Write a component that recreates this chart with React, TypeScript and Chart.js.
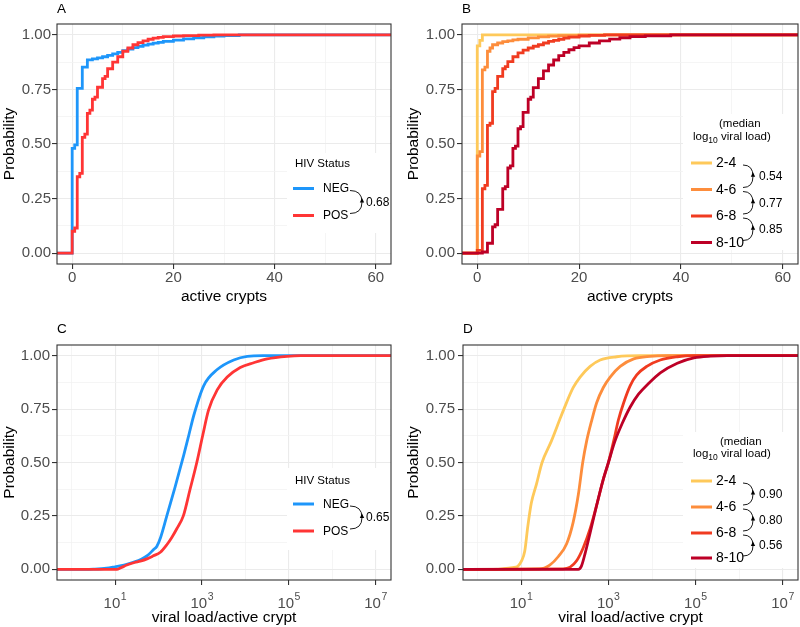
import React, { useEffect, useRef } from "react";
import { Chart, registerables } from "chart.js";

Chart.register(...registerables);

const FONT = "'Liberation Sans', Arial, Helvetica, sans-serif";

// ---------- axes ----------
const LIN_X_MIN = -3;
const LIN_X_MAX = 63;
const LOG_X_MIN = 0.46;
const LOG_X_MAX = 2.24e7;
const Y_MIN = -0.05;
const Y_MAX = 1.05;
const Y_MAJOR = [0, 0.25, 0.5, 0.75, 1];
const Y_MINOR = [0.125, 0.375, 0.625, 0.875];
const LIN_X_MAJOR = [0, 20, 40, 60];
const LIN_X_MINOR = [10, 30, 50];
const LOG_X_MAJOR = [10, 1000, 100000, 10000000];
const LOG_X_MINOR = [1, 100, 10000, 1000000];
const LOG_X_EXP = ["1", "3", "5", "7"];

// ---------- groups ----------
const HIV_GROUPS = ["NEG", "POS"];
const HIV_COLORS = ["#1E96FA", "#FF3535"];
const VL_GROUPS = ["2-4", "4-6", "6-8", "8-10"];
const VL_COLORS = ["#FEC95A", "#FD8D3C", "#F03B20", "#BD0026"];

// ---------- panel A: active crypts by HIV status (ECDF) ----------
const A_NEG_X = [0, 0.5, 1, 2, 3, 4, 5, 6, 7, 8, 9, 10, 11, 12, 13, 14, 15, 16, 17, 18, 20, 22, 24, 26, 28, 30, 33];
const A_NEG_Y = [0.48, 0.496, 0.755, 0.852, 0.886, 0.89, 0.895, 0.9, 0.906, 0.913, 0.92, 0.928, 0.935, 0.942, 0.948, 0.953, 0.958, 0.962, 0.966, 0.97, 0.976, 0.982, 0.987, 0.991, 0.994, 0.997, 1.0];
const A_POS_X = [0, 0.5, 1, 1.5, 2, 2.5, 3, 3.5, 4, 4.5, 5, 6, 6.5, 7, 8, 9, 10, 11, 12, 13, 14, 15, 16, 17, 18, 20, 22, 25, 28];
const A_POS_Y = [0.1, 0.115, 0.35, 0.365, 0.53, 0.545, 0.64, 0.655, 0.705, 0.715, 0.76, 0.8, 0.81, 0.845, 0.875, 0.9, 0.925, 0.94, 0.955, 0.965, 0.973, 0.98, 0.985, 0.989, 0.992, 0.995, 0.997, 0.999, 1.0];
const A_CORR = ["0.68"];

// ---------- panel B: active crypts by viral load group (ECDF) ----------
const B_24_X = [0, 0.5, 1];
const B_24_Y = [0.95, 0.975, 1.0];
const B_46_X = [0, 0.5, 1, 1.5, 2, 2.5, 3, 4, 5, 6, 7, 8, 10, 12, 14, 16, 20, 25];
const B_46_Y = [0.445, 0.465, 0.84, 0.852, 0.925, 0.94, 0.955, 0.963, 0.969, 0.973, 0.977, 0.98, 0.986, 0.991, 0.994, 0.997, 0.999, 1.0];
const B_68_X = [0, 1, 1.5, 2, 2.5, 3, 3.5, 4, 5, 5.5, 6, 7, 8, 9, 10, 11, 12, 13, 14, 15, 16, 17, 18, 20, 22, 25];
const B_68_Y = [0.012, 0.295, 0.31, 0.585, 0.595, 0.74, 0.755, 0.81, 0.845, 0.855, 0.878, 0.9, 0.918, 0.93, 0.94, 0.948, 0.955, 0.963, 0.97, 0.975, 0.98, 0.985, 0.99, 0.995, 0.998, 1.0];
const B_810_X = [1, 2, 3, 3.5, 4, 5, 5.5, 6, 6.5, 7, 7.5, 8, 8.5, 9, 10, 10.5, 11, 12, 13, 14, 15, 16, 17, 18, 19, 20, 22, 24, 26, 28, 30, 33, 38];
const B_810_Y = [0.005, 0.045, 0.12, 0.13, 0.2, 0.295, 0.305, 0.39, 0.4, 0.48, 0.49, 0.57, 0.58, 0.645, 0.705, 0.715, 0.758, 0.8, 0.835, 0.862, 0.885, 0.905, 0.92, 0.932, 0.942, 0.95, 0.963, 0.973, 0.981, 0.987, 0.992, 0.996, 1.0];
const B_CORR = ["0.54", "0.77", "0.85"];

// ---------- panel C: viral load / active crypt by HIV status ----------
const C_NEG_X = [2, 3.2, 6.3, 10, 16, 25, 40, 56, 79, 91, 112, 155, 240, 380, 500, 646, 1100, 2240, 5370, 11000, 25000];
const C_NEG_Y = [0, 0.001, 0.005, 0.012, 0.02, 0.032, 0.047, 0.065, 0.095, 0.107, 0.15, 0.25, 0.385, 0.535, 0.63, 0.72, 0.86, 0.935, 0.98, 0.997, 1.0];
const C_POS_X = [11, 13.2, 18.6, 28, 38, 56, 76, 110, 155, 200, 263, 372, 525, 759, 1047, 1413, 2239, 3802, 7586, 15488, 31623, 91201, 186209];
const C_POS_Y = [0, 0.006, 0.02, 0.032, 0.038, 0.05, 0.063, 0.08, 0.115, 0.148, 0.19, 0.25, 0.37, 0.5, 0.63, 0.745, 0.84, 0.9, 0.945, 0.967, 0.985, 0.997, 1.0];
const C_CORR = ["0.65"];

// ---------- panel D: viral load / active crypt by viral load group ----------
const D_24_X = [2.5, 4, 6.3, 8.3, 10, 12, 14.1, 17, 22.4, 30, 49, 76, 95, 155, 224, 380, 646, 1550, 5370];
const D_24_Y = [0, 0.003, 0.008, 0.014, 0.037, 0.084, 0.2, 0.31, 0.4, 0.5, 0.6, 0.7, 0.75, 0.85, 0.9, 0.95, 0.98, 0.995, 1.0];
const D_46_X = [26, 45, 71, 110, 155, 204, 257, 316, 417, 537, 759, 1096, 1862, 3802, 9120, 22387];
const D_46_Y = [0.002, 0.02, 0.06, 0.12, 0.22, 0.35, 0.5, 0.6, 0.7, 0.78, 0.85, 0.9, 0.95, 0.985, 0.997, 1.0];
const D_68_X = [91, 132, 186, 263, 380, 537, 759, 1000, 1318, 1698, 2239, 3162, 4467, 7586, 15488, 38019, 91201];
const D_68_Y = [0.002, 0.01, 0.04, 0.1, 0.19, 0.3, 0.42, 0.5, 0.6, 0.7, 0.78, 0.86, 0.91, 0.95, 0.98, 0.995, 1.0];
const D_810_X = [204, 240, 288, 380, 537, 759, 1000, 1413, 2042, 3162, 4898, 8318, 15488, 38019, 91201, 223872, 537032];
const D_810_Y = [0, 0.015, 0.07, 0.17, 0.3, 0.42, 0.5, 0.6, 0.68, 0.76, 0.82, 0.87, 0.92, 0.965, 0.99, 0.998, 1.0];
const D_CORR = ["0.90", "0.80", "0.56"];

type Legend = {
  box: [number, number, number, number];
  kind: "hiv" | "vl";
  titlePos: [number, number][];
  entryY: number[];
  lineX: [number, number];
  textX: number;
  labelSize: number;
  arrowX: [number, number];
  arrowTextX: number;
};

type PanelCfg = {
  tag: string;
  left: number;
  top: number;
  w: number;
  h: number;
  pad: { top: number; right: number; bottom: number; left: number };
  yW: number;
  xH: number;
  tagY: number;
  log: boolean;
  xTitle: string;
  xTitlePadB: number;
  yTitlePadT: number;
  yTickPad: number;
  seriesX: number[][];
  seriesY: number[][];
  groups: string[];
  colors: string[];
  corr: string[];
  legend: Legend;
};

const PANELS: PanelCfg[] = [
  {
    tag: "A", left: 0, top: 0, w: 400, h: 313,
    pad: { top: 24, right: 9, bottom: 0, left: 0 }, yW: 57, xH: 49, tagY: 12.5,
    log: false, xTitle: "active crypts", xTitlePadB: 7, yTitlePadT: 0, yTickPad: 1,
    seriesX: [A_NEG_X, A_POS_X], seriesY: [A_NEG_Y, A_POS_Y],
    groups: HIV_GROUPS, colors: HIV_COLORS, corr: A_CORR,
    legend: { box: [287, 153, 104, 80], kind: "hiv", titlePos: [[295, 164]], entryY: [188.5, 215.5], lineX: [293, 314], textX: 323, labelSize: 12, arrowX: [350, 362], arrowTextX: 366 },
  },
  {
    tag: "B", left: 400, top: 0, w: 400, h: 313,
    pad: { top: 24, right: 2, bottom: 0, left: 0 }, yW: 62, xH: 49, tagY: 12.5,
    log: false, xTitle: "active crypts", xTitlePadB: 7, yTitlePadT: 4, yTickPad: 2,
    seriesX: [B_24_X, B_46_X, B_68_X, B_810_X], seriesY: [B_24_Y, B_46_Y, B_68_Y, B_810_Y],
    groups: VL_GROUPS, colors: VL_COLORS, corr: B_CORR,
    legend: { box: [283, 114, 115, 136], kind: "vl", titlePos: [[319, 124], [293, 137]], entryY: [163, 189.5, 216, 242.5], lineX: [291, 312], textX: 316, labelSize: 14, arrowX: [343, 353], arrowTextX: 359 },
  },
  {
    tag: "C", left: 0, top: 313, w: 400, h: 314,
    pad: { top: 32, right: 9, bottom: 0, left: 0 }, yW: 57, xH: 47, tagY: 20,
    log: true, xTitle: "viral load/active crypt", xTitlePadB: 0, yTitlePadT: 0, yTickPad: 2,
    seriesX: [C_NEG_X, C_POS_X], seriesY: [C_NEG_Y, C_POS_Y],
    groups: HIV_GROUPS, colors: HIV_COLORS, corr: C_CORR,
    legend: { box: [287, 155, 104, 82], kind: "hiv", titlePos: [[295, 168]], entryY: [191, 218], lineX: [293, 314], textX: 323, labelSize: 12, arrowX: [350, 362], arrowTextX: 366 },
  },
  {
    tag: "D", left: 400, top: 313, w: 400, h: 314,
    pad: { top: 32, right: 2, bottom: 0, left: 0 }, yW: 63, xH: 47, tagY: 20,
    log: true, xTitle: "viral load/active crypt", xTitlePadB: 0, yTitlePadT: 4.5, yTickPad: 3,
    seriesX: [D_24_X, D_46_X, D_68_X, D_810_X], seriesY: [D_24_Y, D_46_Y, D_68_Y, D_810_Y],
    groups: VL_GROUPS, colors: VL_COLORS, corr: D_CORR,
    legend: { box: [283, 119, 115, 136], kind: "vl", titlePos: [[320, 129], [293, 141]], entryY: [168, 194, 220, 245], lineX: [291, 312], textX: 316, labelSize: 14, arrowX: [343, 353], arrowTextX: 359 },
  },
];

function drawLegend(ctx: CanvasRenderingContext2D, cfg: PanelCfg) {
  const lg = cfg.legend;
  ctx.save();
  ctx.fillStyle = "#FFFFFF";
  ctx.fillRect(lg.box[0], lg.box[1], lg.box[2], lg.box[3]);
  ctx.fillStyle = "#000000";
  ctx.textBaseline = "middle";
  ctx.textAlign = "left";
  ctx.font = `11.5px ${FONT}`;
  if (lg.kind === "hiv") {
    ctx.fillText("HIV Status", lg.titlePos[0][0], lg.titlePos[0][1]);
  } else {
    ctx.fillText("(median", lg.titlePos[0][0], lg.titlePos[0][1]);
    let x = lg.titlePos[1][0];
    const y = lg.titlePos[1][1];
    ctx.fillText("log", x, y);
    x += ctx.measureText("log").width;
    ctx.font = `8.5px ${FONT}`;
    ctx.fillText("10", x, y + 3.5);
    x += ctx.measureText("10").width;
    ctx.font = `11.5px ${FONT}`;
    ctx.fillText(" viral load)", x, y);
  }
  cfg.groups.forEach((g, i) => {
    const y = lg.entryY[i];
    ctx.strokeStyle = cfg.colors[i];
    ctx.lineWidth = 3;
    ctx.lineCap = "butt";
    ctx.beginPath();
    ctx.moveTo(lg.lineX[0], y);
    ctx.lineTo(lg.lineX[1], y);
    ctx.stroke();
    ctx.font = `${lg.labelSize}px ${FONT}`;
    ctx.fillText(g, lg.textX, y + 0.5);
  });
  cfg.corr.forEach((c, i) => {
    const y1 = lg.entryY[i] + 2;
    const y2 = lg.entryY[i + 1] - 2;
    const ym = (y1 + y2) / 2;
    const [a0, a1] = lg.arrowX;
    ctx.strokeStyle = "#000000";
    ctx.lineWidth = 0.9;
    ctx.beginPath();
    ctx.moveTo(a0, y1);
    ctx.quadraticCurveTo(a1, y1, a1, ym);
    ctx.quadraticCurveTo(a1, y2, a0, y2);
    ctx.stroke();
    ctx.beginPath();
    ctx.moveTo(a1, ym - 4);
    ctx.lineTo(a1 - 2.2, ym + 0.5);
    ctx.lineTo(a1 + 2.2, ym + 0.5);
    ctx.closePath();
    ctx.fill();
    ctx.font = `12px ${FONT}`;
    ctx.fillText(c, lg.arrowTextX, ym + 0.5);
  });
  ctx.restore();
}

function makeConfig(cfg: PanelCfg): any {
  const xMin = cfg.log ? LOG_X_MIN : LIN_X_MIN;
  const xMax = cfg.log ? LOG_X_MAX : LIN_X_MAX;
  const xMajor = cfg.log ? LOG_X_MAJOR : LIN_X_MAJOR;
  const xMinor = cfg.log ? LOG_X_MINOR : LIN_X_MINOR;
  const n = cfg.groups.length;
  const datasets = cfg.groups.map((g, i) => ({
    label: g,
    data: [
      { x: xMin, y: 0 },
      ...cfg.seriesX[i].map((x, j) => ({ x, y: cfg.seriesY[i][j] })),
      { x: xMax, y: 1 },
    ],
    borderColor: cfg.colors[i],
    backgroundColor: cfg.colors[i],
    borderWidth: 2.8,
    pointRadius: 0,
    fill: false,
    stepped: cfg.log ? false : "before",
    cubicInterpolationMode: cfg.log ? "monotone" : "default",
    tension: 0,
    order: n - i,
  }));

  const gridColor = (major: number[]) => (ctx: any) =>
    ctx.tick && major.includes(ctx.tick.value) ? "#EBEBEB" : "#F3F3F3";
  const gridWidth = (major: number[]) => (ctx: any) =>
    ctx.tick && major.includes(ctx.tick.value) ? 1.1 : 0.8;
  const tickColor = (major: number[]) => (ctx: any) =>
    ctx.tick && major.includes(ctx.tick.value) ? "#333333" : "rgba(0,0,0,0)";

  const plugin = {
    id: "panel" + cfg.tag,
    afterDatasetsDraw(chart: any) {
      drawLegend(chart.ctx, cfg);
    },
    afterDraw(chart: any) {
      const ctx: CanvasRenderingContext2D = chart.ctx;
      const ca = chart.chartArea;
      ctx.save();
      ctx.strokeStyle = "#333333";
      ctx.lineWidth = 1.1;
      ctx.strokeRect(ca.left, ca.top, ca.right - ca.left, ca.bottom - ca.top);
      ctx.fillStyle = "#000000";
      ctx.textAlign = "left";
      ctx.textBaseline = "alphabetic";
      ctx.font = `13.5px ${FONT}`;
      ctx.fillText(cfg.tag, ca.left, cfg.tagY);
      if (cfg.log) {
        const sx = chart.scales.x;
        ctx.fillStyle = "#4D4D4D";
        LOG_X_MAJOR.forEach((v, i) => {
          const px = sx.getPixelForValue(v);
          ctx.font = `15px ${FONT}`;
          const w1 = ctx.measureText("10").width;
          ctx.font = `10.5px ${FONT}`;
          const w2 = ctx.measureText(LOG_X_EXP[i]).width;
          const x0 = px - (w1 + w2 + 0.5) / 2;
          const base = ca.bottom + 28;
          ctx.font = `15px ${FONT}`;
          ctx.fillText("10", x0, base);
          ctx.font = `10.5px ${FONT}`;
          ctx.fillText(LOG_X_EXP[i], x0 + w1 + 0.5, base - 8);
        });
      }
      ctx.restore();
    },
  };

  return {
    type: "line",
    data: { datasets },
    options: {
      animation: false,
      responsive: false,
      devicePixelRatio: 1,
      events: [],
      layout: { padding: cfg.pad },
      plugins: { legend: { display: false }, tooltip: { enabled: false }, title: { display: false } },
      scales: {
        x: {
          type: cfg.log ? "logarithmic" : "linear",
          min: xMin,
          max: xMax,
          afterBuildTicks: (s: any) => {
            s.ticks = [...xMajor, ...xMinor].sort((a, b) => a - b).map((value) => ({ value }));
          },
          afterFit: (s: any) => {
            s.height = cfg.xH;
          },
          border: { display: false },
          grid: {
            color: gridColor(xMajor),
            lineWidth: gridWidth(xMajor),
            tickColor: tickColor(xMajor),
            tickWidth: 1.1,
            tickLength: 5,
            drawTicks: true,
          },
          ticks: {
            autoSkip: false,
            maxRotation: 0,
            padding: 0,
            color: "#4D4D4D",
            font: { family: FONT, size: 15 },
            callback: (v: number) => (!cfg.log && LIN_X_MAJOR.includes(v) ? String(v) : ""),
          },
          title: {
            display: true,
            text: cfg.xTitle,
            color: "#000000",
            font: { family: FONT, size: 15.5 },
            padding: { top: 0, bottom: cfg.xTitlePadB },
          },
        },
        y: {
          type: "linear",
          min: Y_MIN,
          max: Y_MAX,
          afterBuildTicks: (s: any) => {
            s.ticks = [...Y_MAJOR, ...Y_MINOR].sort((a, b) => a - b).map((value) => ({ value }));
          },
          afterFit: (s: any) => {
            s.width = cfg.yW;
          },
          border: { display: false },
          grid: {
            color: gridColor(Y_MAJOR),
            lineWidth: gridWidth(Y_MAJOR),
            tickColor: tickColor(Y_MAJOR),
            tickWidth: 1.1,
            tickLength: 5,
            drawTicks: true,
          },
          ticks: {
            autoSkip: false,
            padding: cfg.yTickPad,
            color: "#4D4D4D",
            font: { family: FONT, size: 15 },
            callback: (v: number) => (Y_MAJOR.includes(v) ? v.toFixed(2) : ""),
          },
          title: {
            display: true,
            text: "Probability",
            color: "#000000",
            font: { family: FONT, size: 15.5 },
            padding: { top: cfg.yTitlePadT, bottom: 0 },
          },
        },
      },
    },
    plugins: [plugin],
  };
}

function Panel({ cfg }: { cfg: PanelCfg }) {
  const ref = useRef<HTMLCanvasElement>(null);
  useEffect(() => {
    const chart = new Chart(ref.current as HTMLCanvasElement, makeConfig(cfg));
    return () => chart.destroy();
  }, [cfg]);
  return (
    <canvas
      ref={ref}
      width={cfg.w}
      height={cfg.h}
      style={{ position: "absolute", left: cfg.left, top: cfg.top, width: cfg.w, height: cfg.h, display: "block" }}
    />
  );
}

export default function App() {
  return (
    <div style={{ position: "absolute", left: 0, top: 0, width: 800, height: 627, background: "#FFFFFF", overflow: "hidden" }}>
      {PANELS.map((p) => (
        <Panel key={p.tag} cfg={p} />
      ))}
    </div>
  );
}
